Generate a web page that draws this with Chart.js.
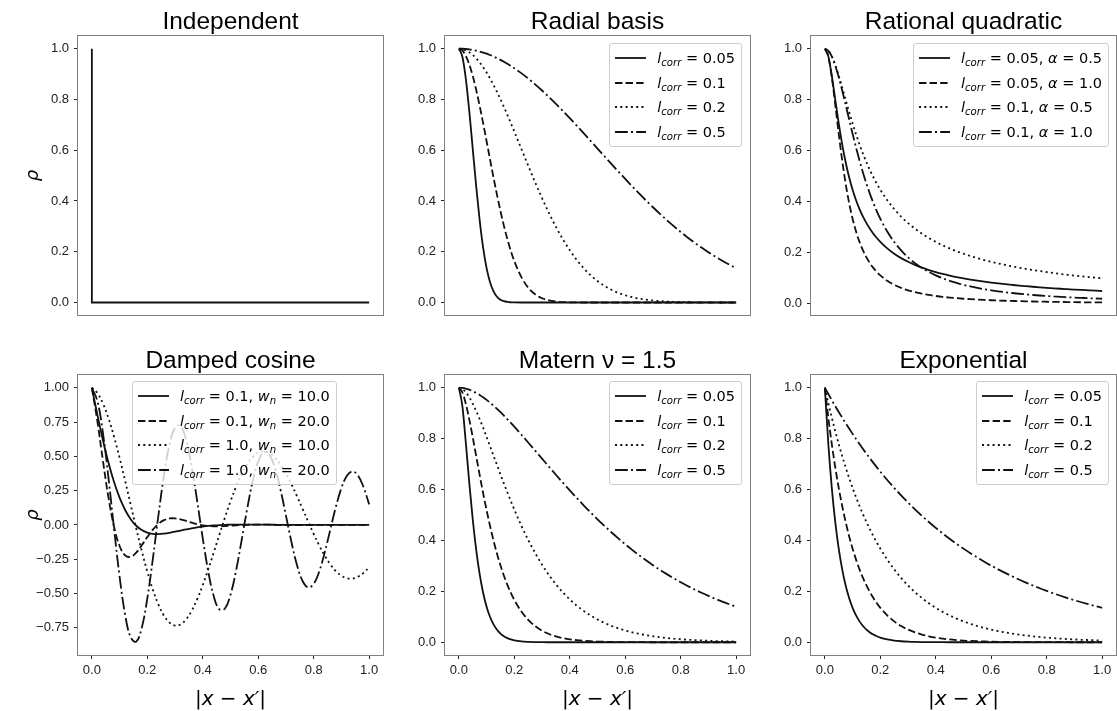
<!DOCTYPE html>
<html>
<head>
<meta charset="utf-8">
<script src="https://cdn.jsdelivr.net/npm/chart.js@4.4.0/dist/chart.umd.min.js"></script>
<style>
  html, body { margin: 0; padding: 0; background: #fff; }
  #fig { position: relative; width: 1117px; height: 711px; overflow: hidden; }
  #fig canvas { position: absolute; }
  .legend { position: absolute; box-sizing: border-box; padding: 2px 6px 2px 5px; border: 1px solid #ccc; border-radius: 3px; background: rgba(255,255,255,0.8); font-family: "DejaVu Sans"; font-size: 14.5px; color: #000; white-space: nowrap; }
  .legend .row { display: flex; align-items: center; height: 24.5px; }
  .legend svg { width: 31px; height: 10px; margin-right: 11px; flex: none; }
  .legend sub { font-size: 0.7em; vertical-align: -0.3em; line-height: 0; }
</style>
</head>
<body>
<div id="fig"></div>
<script>
// x grid, finer near zero where curves drop fast
const xs = [0, 0.0125, 0.025, 0.0375, 0.05, 0.0625, 0.075, 0.0875, 0.1, 0.1125, 0.125, 0.1375, 0.15, 0.1625, 0.175, 0.1875, 0.2,
  0.225, 0.25, 0.275, 0.3, 0.325, 0.35, 0.375, 0.4, 0.425, 0.45, 0.475, 0.5, 0.525, 0.55, 0.575, 0.6, 0.625, 0.65, 0.675, 0.7,
  0.725, 0.75, 0.775, 0.8, 0.825, 0.85, 0.875, 0.9, 0.925, 0.95, 0.975, 1];
const xsCos = [0, 0.02, 0.04, 0.06, 0.08, 0.1, 0.12, 0.14, 0.16, 0.18, 0.2, 0.22, 0.24, 0.26, 0.28, 0.3, 0.32, 0.34, 0.36, 0.38, 0.4,
  0.42, 0.44, 0.46, 0.48, 0.5, 0.52, 0.54, 0.56, 0.58, 0.6, 0.62, 0.64, 0.66, 0.68, 0.7, 0.72, 0.74, 0.76, 0.78, 0.8,
  0.82, 0.84, 0.86, 0.88, 0.9, 0.92, 0.94, 0.96, 0.98, 1];

const xTicks = [0, 0.2, 0.4, 0.6, 0.8, 1.0];
const yTicks = [0, 0.2, 0.4, 0.6, 0.8, 1.0];
const yTicksCos = [-0.75, -0.5, -0.25, 0, 0.25, 0.5, 0.75, 1.0];

const titles = ["Independent", "Radial basis", "Rational quadratic", "Damped cosine", "Matern \u03bd = 1.5", "Exponential"];

// Independent
const indepX = [0, 0, 1];
const indepY = [1, 0, 0];

// Radial basis
const lcorr4 = ["0.05", "0.1", "0.2", "0.5"];
const rbf1 = [1, .9692, .8825, .7548, .6065, .4578, .3247, .2163, .1353, .0796, .0439, .0228, .0111, .0051, .0022, .0009, .0003,
  0, 0, 0, 0, 0, 0, 0, 0, 0, 0, 0, 0, 0, 0, 0, 0, 0, 0, 0, 0, 0, 0, 0, 0, 0, 0, 0, 0, 0, 0, 0, 0];
const rbf2 = [1, .9929, .9721, .9382, .8928, .8377, .7748, .7067, .6354, .5633, .4923, .4243, .3604, .3019, .2494, .203, .163,
  .1007, .0587, .0324, .0169, .0083, .0039, .0017, .0007, .0003, .0001, 0, 0, 0, 0, 0, 0, 0, 0, 0, 0, 0, 0, 0, 0, 0, 0, 0, 0, 0, 0, 0, 0];
const rbf3 = [1, .9985, .9938, .9862, .9756, .9622, .946, .9272, .9059, .8825, .857, .8297, .8007, .7704, .739, .7067, .6736,
  .6065, .5394, .4738, .4111, .3523, .2982, .2494, .2059, .168, .1353, .1077, .0847, .0657, .0504, .0382, .0286, .0211, .0154, .0111,
  .0079, .0056, .0039, .0027, .0018, .0012, .0008, .0005, .0003, .0002, .0001, .0001, 0];
const rbf4 = [1, .9997, .9988, .9972, .995, .9922, .9888, .9848, .9802, .975, .9692, .9629, .956, .9486, .9406, .9321, .9231,
  .9037, .8825, .8596, .8353, .8096, .7827, .7548, .7261, .6968, .667, .6368, .6065, .5763, .5461, .5162, .4868, .4578, .4296, .402,
  .3753, .3495, .3247, .3008, .278, .2563, .2357, .2163, .1979, .1806, .1645, .1494, .1353];

// Rational quadratic
const rqL = ["0.05", "0.05", "0.1", "0.1"];
const rqAlpha = ["0.5", "1.0", "0.5", "1.0"];
const rq1 = [1, .9701, .8944, .8, .7071, .6247, .5547, .4961, .4472, .4061, .3714, .3417, .3162, .2941, .2747, .2577, .2425,
  .2169, .1961, .1789, .1644, .1521, .1414, .1322, .124, .1168, .1104, .1047, .0995, .0948, .0905, .0866, .083, .0797, .0767, .0739,
  .0712, .0688, .0665, .0644, .0624, .0605, .0587, .0571, .0555, .054, .0526, .0512, .0499];
const rq2 = [1, .9697, .8889, .7805, .6667, .5614, .4706, .3951, .3333, .2832, .2424, .2092, .1818, .1592, .1404, .1245, .1111,
  .0899, .0741, .062, .0526, .0452, .0392, .0343, .0303, .0269, .0241, .0217, .0196, .0178, .0163, .0149, .0137, .0126, .0117, .0109,
  .0101, .0094, .0088, .0083, .0078, .0073, .0069, .0065, .0061, .0058, .0055, .0052, .005];
const rq3 = [1, .9923, .9701, .9363, .8944, .848, .8, .7526, .7071, .6644, .6247, .5882, .5547, .5241, .4961, .4706, .4472,
  .4061, .3714, .3417, .3162, .2941, .2747, .2577, .2425, .229, .2169, .206, .1961, .1871, .1789, .1713, .1644, .158, .1521, .1465,
  .1414, .1366, .1322, .128, .124, .1203, .1168, .1135, .1104, .1075, .1047, .102, .0995];
const rq4 = [1, .9922, .9697, .9343, .8889, .8366, .7805, .7232, .6667, .6124, .5614, .5141, .4706, .431, .3951, .3626, .3333,
  .2832, .2424, .2092, .1818, .1592, .1404, .1245, .1111, .0997, .0899, .0814, .0741, .0677, .062, .057, .0526, .0487, .0452, .042,
  .0392, .0367, .0343, .0322, .0303, .0285, .0269, .0255, .0241, .0229, .0217, .0206, .0196];

// Damped cosine
const cosL = ["0.1", "0.1", "1.0", "1.0"];
const cosWn = ["10.0", "20.0", "10.0", "20.0"];
const cos1 = [1, .8024, .6174, .4529, .313, .1988, .1092, .0419, -.0059, -.0376, -.0563, -.0652, -.0669, -.0636, -.0573, -.0493,
  -.0407, -.0323, -.0245, -.0177, -.012, -.0074, -.0038, -.0011, .0007, .0019, .0026, .0029, .0029, .0027, .0024, .002, .0017,
  .0013, .001, .0007, .0005, .0003, .0001, 0, 0, 0, 0, 0, 0, 0, 0, 0, 0, 0, 0];
const cos2 = [1, .7541, .467, .1989, -.0131, -.1531, -.2221, -.2323, -.2016, -.1482, -.0884, -.034, .0079, .0348, .0472, .0478,
  .0405, .029, .0166, .0056, -.0027, -.0078, -.01, -.0098, -.0081, -.0056, -.0031, -.0009, .0008, .0017, .0021, .002, .0017,
  .0011, .0006, .0001, -.0002, -.0004, -.0004, -.0004, -.0003, 0, 0, 0, 0, 0, 0, 0, 0, 0, 0];
const cos3 = [1, .9607, .885, .7773, .6431, .4889, .3214, .1478, -.0249, -.1898, -.3407, -.4723, -.58, -.6608, -.7121, -.7334,
  -.7249, -.6882, -.6257, -.541, -.4381, -.3221, -.1979, -.0708, .0541, .1721, .2785, .3698, .443, .4958, .527, .536, .5237,
  .4912, .4404, .3744, .2962, .2092, .1175, .0248, -.0654, -.1494, -.2242, -.2872, -.3366, -.3705, -.3885, -.3905, -.377, -.3492, -.3087];
const cos4 = [1, .9029, .6694, .3413, -.027, -.3765, -.654, -.8192, -.8507, -.7491, -.5351, -.2466, .0688, .3613, .5862, .7113,
  .7212, .6188, .4245, .1719, -.0975, -.3412, -.5225, -.6154, -.6093, -.5089, -.3336, -.1133, .116, .3182, .4631, .5305, .513,
  .4166, .2595, .0679, -.1265, -.2939, -.4086, -.4557, -.4303, -.3391, -.1991, -.0333, .131, .2685, .3589, .3901, .3596, .2745, .1501];

// Matern nu=1.5
const mat1 = [1, .9294, .7849, .6272, .4834, .3633, .2677, .1945, .1397, .0994, .0702, .0492, .0343, .0238, .0165, .0113, .0078,
  .0036, .0017, .0008, .0003, .0001, 0, 0, 0, 0, 0, 0, 0, 0, 0, 0, 0, 0, 0, 0, 0, 0, 0, 0, 0, 0, 0, 0, 0, 0, 0, 0, 0];
const mat2 = [1, .9821, .9371, .8757, .8054, .7313, .6574, .586, .5188, .4565, .3995, .3481, .3024, .2614, .2254, .1937, .1661,
  .1215, .0882, .0635, .0455, .0324, .0231, .0163, .0115, .0081, .0057, .004, .0028, .0019, .0013, .0009, .0006, .0004, .0003,
  .0002, .0001, .0001, 0, 0, 0, 0, 0, 0, 0, 0, 0, 0, 0];
const mat3 = [1, .9952, .9823, .9626, .9378, .9088, .8767, .8426, .8068, .7701, .7332, .6962, .6596, .6237, .5885, .5543, .5213,
  .459, .4024, .3508, .3048, .2638, .2277, .196, .1683, .1441, .1233, .1052, .0896, .0762, .0647, .0548, .0464, .0393, .0332,
  .028, .0236, .0199, .0167, .0141, .0118, .0099, .0083, .007, .0059, .0049, .0041, .0034, .0029];
const mat4 = [1, .9991, .9965, .9923, .9866, .9797, .9716, .9624, .9522, .9412, .9294, .917, .9039, .8902, .8761, .8616, .8468,
  .8162, .7849, .7532, .7213, .6895, .6581, .6271, .5967, .5671, .5382, .5103, .4832, .4572, .4321, .4081, .3851, .3631, .342,
  .322, .303, .2848, .2677, .2514, .2359, .2213, .2075, .1945, .1822, .1706, .1597, .1494, .1397];

// Exponential
const exp1 = [1, .7788, .6065, .4724, .3679, .2865, .2231, .1738, .1353, .1054, .0821, .0639, .0498, .0388, .0302, .0235, .0183,
  .0111, .0067, .0041, .0025, .0015, .0009, .0006, .0003, .0002, .0001, 0, 0, 0, 0, 0, 0, 0, 0, 0, 0, 0, 0, 0, 0, 0, 0, 0, 0, 0, 0, 0, 0];
const exp2 = [1, .8825, .7788, .6873, .6065, .5353, .4724, .4169, .3679, .3247, .2865, .2528, .2231, .1969, .1738, .1534, .1353,
  .1054, .0821, .0639, .0498, .0388, .0302, .0235, .0183, .0143, .0111, .0087, .0067, .0052, .0041, .0032, .0025, .0019, .0015,
  .0012, .0009, .0007, .0006, .0004, .0003, .0003, .0002, .0002, .0001, .0001, .0001, .0001, 0];
const exp3 = [1, .9394, .8825, .829, .7788, .7316, .6873, .6456, .6065, .5698, .5353, .5028, .4724, .4437, .4169, .3916, .3679,
  .3247, .2865, .2528, .2231, .1969, .1738, .1534, .1353, .1194, .1054, .093, .0821, .0724, .0639, .0564, .0498, .0439, .0388,
  .0342, .0302, .0267, .0235, .0208, .0183, .0162, .0143, .0126, .0111, .0098, .0087, .0076, .0067];
const exp4 = [1, .9753, .9512, .9277, .9048, .8825, .8607, .8395, .8187, .7985, .7788, .7596, .7408, .7225, .7047, .6873, .6703,
  .6376, .6065, .5769, .5488, .522, .4966, .4724, .4493, .4274, .4066, .3867, .3679, .3499, .3329, .3166, .3012, .2865, .2725,
  .2592, .2466, .2346, .2231, .2122, .2019, .192, .1827, .1738, .1653, .1572, .1496, .1423, .1353];

// line styles (matplotlib -, --, :, -.)
const styles = [[], [7.4, 3.2], [2, 3.3], [12.8, 3.2, 2, 3.2]];
const lineColor = "#111";

const fig = document.getElementById("fig");
const LEFT_W = 78, AX_W = 305, RIGHT_PAD = 8;

const frame = {
  id: "frame",
  afterDatasetsDraw(chart) {
    const a = chart.chartArea;
    const ctx = chart.ctx;
    ctx.save();
    ctx.strokeStyle = "#808080";
    ctx.lineWidth = 1;
    ctx.strokeRect(Math.round(a.left) - 0.5, Math.round(a.top) - 0.5, Math.round(a.right - a.left) + 1, Math.round(a.bottom - a.top) + 1);
    ctx.restore();
  }
};

function pts(xArr, yArr) {
  return xArr.map((x, i) => ({ x: x, y: yArr[i] }));
}

function panel(p) {
  const cv = document.createElement("canvas");
  cv.width = LEFT_W + AX_W + RIGHT_PAD;
  cv.height = p.bottom ? 372 : 328;
  cv.style.left = (p.axLeft - LEFT_W) + "px";
  cv.style.top = (p.bottom ? 339 : 0) + "px";
  fig.appendChild(cv);

  const datasets = p.series.map((ys, i) => ({
    data: pts(p.x, ys),
    borderColor: lineColor,
    borderWidth: 1.8,
    borderDash: styles[i],
    borderCapStyle: "butt",
    pointRadius: 0,
    fill: false,
    tension: p.smooth === "spline" ? 0.4 : 0,
    cubicInterpolationMode: p.smooth === "monotone" ? "monotone" : "default"
  }));

  new Chart(cv, {
    type: "line",
    data: { datasets: datasets },
    options: {
      responsive: false,
      animation: false,
      devicePixelRatio: 1,
      layout: { padding: { right: RIGHT_PAD, bottom: p.bottom ? 0 : 10 } },
      plugins: {
        legend: { display: false },
        tooltip: { enabled: false },
        title: {
          display: true,
          fullSize: false,
          text: p.title,
          color: "#000",
          font: { family: "Liberation Sans", size: 24.5, weight: "normal", lineHeight: "28px" },
          padding: { top: 8, bottom: 0 }
        }
      },
      scales: {
        x: {
          type: "linear",
          min: -0.05,
          max: 1.05,
          display: p.bottom,
          afterBuildTicks: s => { s.ticks = xTicks.map(v => ({ value: v })); },
          afterFit: s => { if (p.bottom) s.height = 56; },
          border: { display: false },
          grid: { drawOnChartArea: false, drawTicks: true, tickLength: 4, tickColor: "#222", tickWidth: 1 },
          ticks: { padding: 4, color: "#222", maxRotation: 0, autoSkip: false, font: { family: "Liberation Sans", size: 13 },
            callback: v => v.toFixed(1) },
          title: { display: true, text: "|x \u2212 x\u2032|", color: "#000", padding: 0,
            font: { family: "DejaVu Sans", size: 20, style: "italic", lineHeight: "22px" } }
        },
        y: {
          min: p.yMin,
          max: p.yMax,
          afterBuildTicks: s => { s.ticks = p.yTicks.map(v => ({ value: v })); },
          afterFit: s => { s.width = LEFT_W; },
          border: { display: false },
          grid: { drawOnChartArea: false, drawTicks: true, tickLength: 4, tickColor: "#222", tickWidth: 1 },
          ticks: { padding: 5, color: "#222", autoSkip: false, font: { family: "Liberation Sans", size: 13 },
            callback: v => (v < 0 ? "\u2212" : "") + Math.abs(v).toFixed(p.yDigits) },
          title: { display: p.ylabel, text: "\u03c1", color: "#000", padding: { top: 23 },
            font: { family: "DejaVu Sans", size: 18, style: "italic", lineHeight: "20px" } }
        }
      }
    },
    plugins: [frame]
  });

  if (p.legend) {
    const lg = document.createElement("div");
    lg.className = "legend";
    lg.style.top = p.legend.top + "px";
    if (p.legend.left !== undefined) lg.style.left = p.legend.left + "px";
    else lg.style.right = (1117 - p.legend.right) + "px";
    lg.innerHTML = p.legend.labels.map((html, i) =>
      '<div class="row"><svg viewBox="0 0 31 10"><line x1="0" y1="5" x2="31" y2="5" stroke="' + lineColor +
      '" stroke-width="1.8" stroke-dasharray="' + (styles[i].length ? styles[i].join(" ") : "none") + '"/></svg><span>' + html + "</span></div>"
    ).join("");
    fig.appendChild(lg);
  }
}

const lc = "<i>l</i><sub><i>corr</i></sub> = ";

panel({ axLeft: 78, bottom: false, title: titles[0], x: indepX, series: [indepY], smooth: "none",
  yMin: -0.05, yMax: 1.05, yTicks: yTicks, yDigits: 1, ylabel: true });

panel({ axLeft: 445, bottom: false, title: titles[1], x: xs, series: [rbf1, rbf2, rbf3, rbf4], smooth: "monotone",
  yMin: -0.05, yMax: 1.05, yTicks: yTicks, yDigits: 1, ylabel: false,
  legend: { top: 43, right: 742, labels: lcorr4.map(v => lc + v) } });

panel({ axLeft: 811, bottom: false, title: titles[2], x: xs, series: [rq1, rq2, rq3, rq4], smooth: "monotone",
  yMin: -0.045, yMax: 1.05, yTicks: yTicks, yDigits: 1, ylabel: false,
  legend: { top: 43, right: 1109, labels: rqL.map((v, i) => lc + v + ", <i>\u03b1</i> = " + rqAlpha[i]) } });

panel({ axLeft: 78, bottom: true, title: titles[3], x: xsCos, series: [cos1, cos2, cos3, cos4], smooth: "spline",
  yMin: -0.948, yMax: 1.093, yTicks: yTicksCos, yDigits: 2, ylabel: true,
  legend: { top: 381, left: 132, labels: cosL.map((v, i) => lc + v + ", <i>w</i><sub><i>n</i></sub> = " + cosWn[i]) } });

panel({ axLeft: 445, bottom: true, title: titles[4], x: xs, series: [mat1, mat2, mat3, mat4], smooth: "monotone",
  yMin: -0.05, yMax: 1.05, yTicks: yTicks, yDigits: 1, ylabel: false,
  legend: { top: 381, right: 742, labels: lcorr4.map(v => lc + v) } });

panel({ axLeft: 811, bottom: true, title: titles[5], x: xs, series: [exp1, exp2, exp3, exp4], smooth: "monotone",
  yMin: -0.05, yMax: 1.05, yTicks: yTicks, yDigits: 1, ylabel: false,
  legend: { top: 381, right: 1109, labels: lcorr4.map(v => lc + v) } });
</script>
</body>
</html>
